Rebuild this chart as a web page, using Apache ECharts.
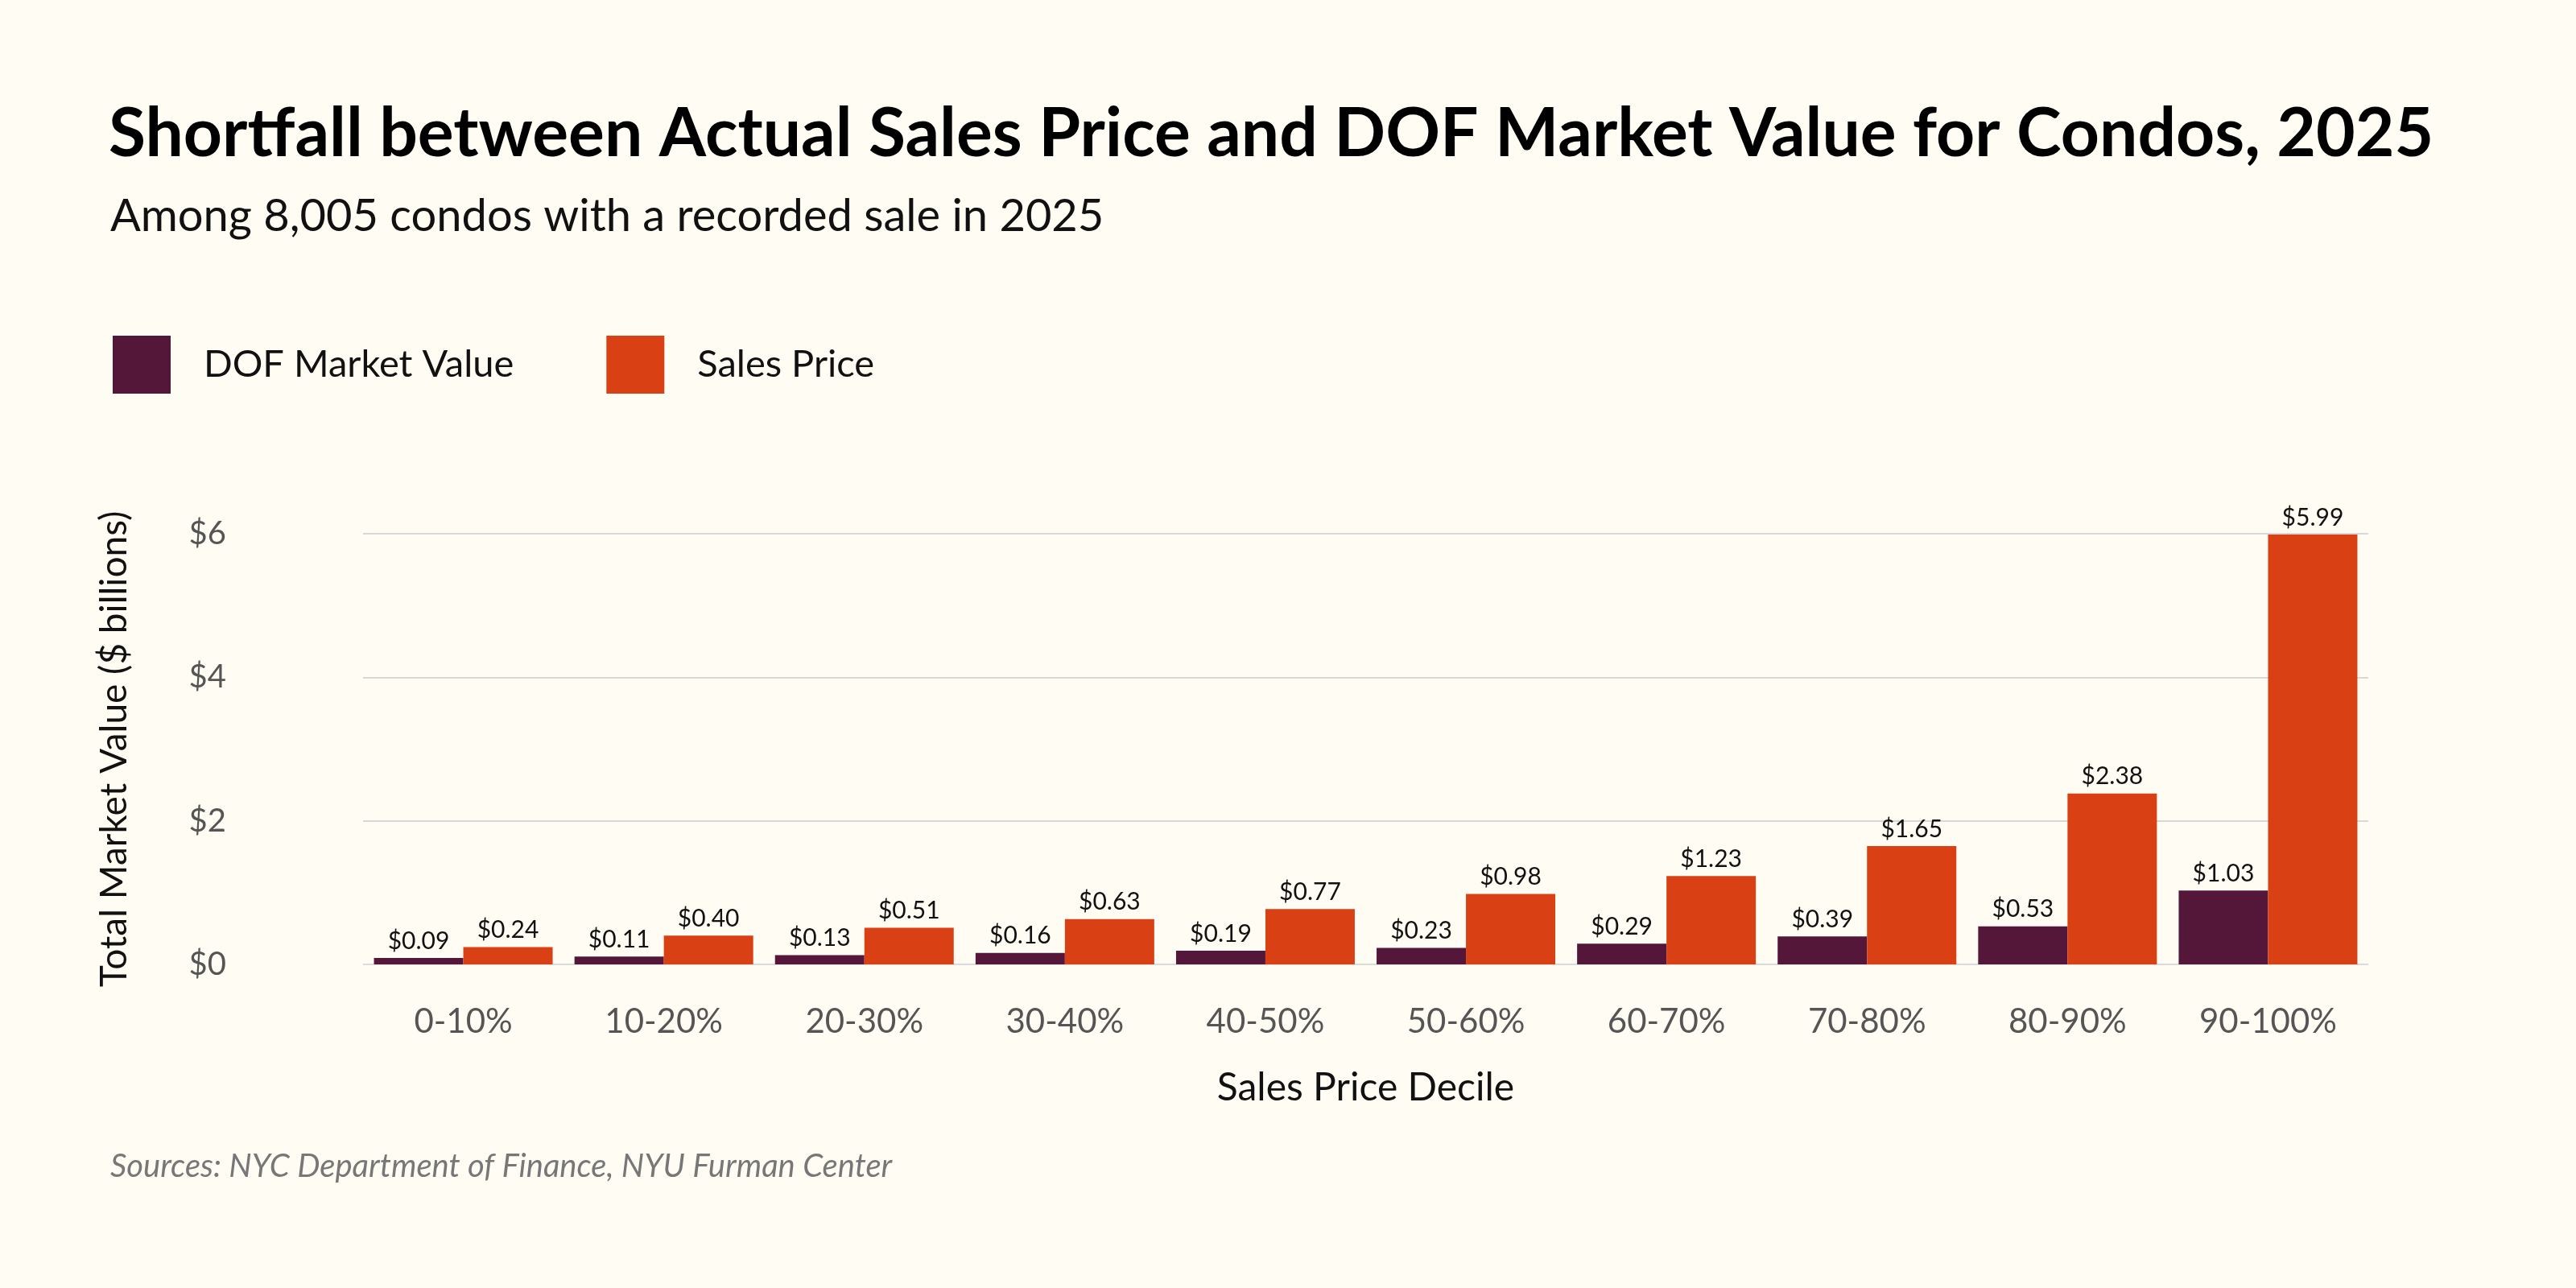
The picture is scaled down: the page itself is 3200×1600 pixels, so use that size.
<!DOCTYPE html><html><head><meta charset="utf-8">
<script src="https://cdn.jsdelivr.net/npm/echarts@6/dist/echarts.min.js"></script>
<style>html,body{margin:0;background:#fffdf3}#c{width:3200px;height:1600px}</style></head><body><div id="c"></div>
<script>
const categories=['0-10%','10-20%','20-30%','30-40%','40-50%','50-60%','60-70%','70-80%','80-90%','90-100%'];
const dofValues=[0.09,0.11,0.13,0.16,0.19,0.23,0.29,0.39,0.53,1.03];
const salesValues=[0.24,0.40,0.51,0.63,0.77,0.98,1.23,1.65,2.38,5.99];
const F='Lato, "Open Sans", sans-serif';
const chart=echarts.init(document.getElementById('c'));
const lbl={show:true,position:'top',distance:6,fontFamily:F,fontSize:30,color:'#111',formatter:p=>'$'+p.value.toFixed(2)};
chart.setOption({
backgroundColor:'#fffdf3',
title:[{text:'Shortfall between Actual Sales Price and DOF Market Value for Condos, 2025',left:130,top:120,textStyle:{fontFamily:F,fontWeight:'bold',fontSize:84,color:'#000'}},
{text:'Among 8,005 condos with a recorded sale in 2025',left:132,top:236,textStyle:{fontFamily:F,fontWeight:'normal',fontSize:56,color:'#111'}},
{text:'Sources: NYC Department of Finance, NYU Furman Center',left:132,top:1424,textStyle:{fontFamily:F,fontStyle:'italic',fontWeight:'normal',fontSize:40,color:'#777'}}],
legend:{left:135,top:412,itemWidth:72,itemHeight:72,itemGap:115,icon:'rect',textStyle:{fontFamily:F,fontSize:47,color:'#111',padding:[0,0,0,36]}},
grid:{left:451,right:258,top:663,bottom:402},
xAxis:{type:'category',data:categories,axisTick:{show:false},axisLine:{lineStyle:{color:'#ddd'}},
axisLabel:{fontFamily:F,fontSize:42,color:'#555',margin:50},
name:'Sales Price Decile',nameLocation:'middle',nameGap:130,nameTextStyle:{fontFamily:F,fontSize:48,color:'#111'}},
yAxis:{type:'value',min:0,max:6,interval:2,axisLabel:{fontFamily:F,fontSize:40,color:'#555',margin:170,formatter:v=>'$'+v},
splitLine:{lineStyle:{color:'#d8d8d8',width:2}},
name:'Total Market Value ($ billions)',nameLocation:'middle',nameGap:286,nameTextStyle:{fontFamily:F,fontSize:46,color:'#111'}},
series:[{name:'DOF Market Value',type:'bar',data:dofValues,barWidth:111,barGap:'0%',itemStyle:{color:'#541639'},label:lbl},
{name:'Sales Price',type:'bar',data:salesValues,barWidth:111,itemStyle:{color:'#d94014'},label:lbl}]
});
</script></body></html>
